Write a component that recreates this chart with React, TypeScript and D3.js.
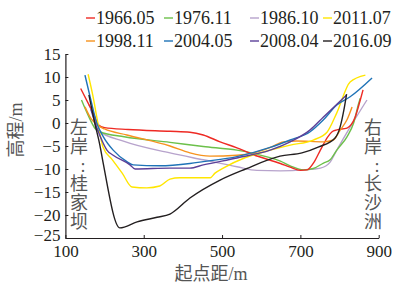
import * as d3 from "d3";
import { useEffect, useRef } from "react";

type Pt = [number, number];

const seriesNames = ["1966.05", "1976.11", "1986.10", "2011.07", "1998.11", "2004.05", "2008.04", "2016.09"];
const seriesColors = ["#ee2a24", "#6cc04a", "#b7a3cc", "#ffe600", "#f7931e", "#1f73b7", "#5b3f98", "#231f20"];

const s1966: Pt[] = [[139, 7.5], [160, 4], [171, 2.2], [184, -0.4], [200, -1], [260, -1.4], [367, -1.8], [418, -2], [452, -2.6], [495, -4.1], [538, -5.4], [580, -6.9], [649, -8.8], [674, -9.6], [700, -10.3], [717, -10.2], [735, -8.5], [751, -5.9], [770, -3], [781, -1.9], [793, -1.5], [819, -1.1], [840, 1.3], [853, 5], [860, 7.2]];
const s1976: Pt[] = [[141, 5], [150, 3.2], [158, 1.7], [176, -1.2], [188, -1.9], [250, -3], [367, -4.2], [452, -5.1], [538, -5.9], [580, -6.6], [649, -8.3], [674, -9.3], [708, -10.2], [733, -9.9], [759, -8.7], [776, -8], [793, -5.9], [819, -3], [836, 0], [849, 4.3], [853, 5.4]];
const s1986: Pt[] = [[160, 4], [170, 2], [181, -1.5], [250, -4], [367, -6.5], [452, -8], [538, -9.5], [589, -10.3], [649, -10.4], [708, -10.2], [751, -9.8], [776, -8.5], [793, -5.9], [827, -0.9], [870, 5]];
const s2011: Pt[] = [[158, 10.6], [170, 6], [183, 0], [196, -5.2], [220, -8], [245, -10.9], [270, -13.9], [308, -14.1], [341, -13.7], [367, -12.2], [392, -11.9], [470, -11.9], [482, -10.9], [503, -9.8], [560, -7.5], [623, -5.9], [674, -4.8], [733, -3.7], [768, -2], [793, 2.2], [827, 8.9], [866, 10.4]];
const s1998: Pt[] = [[150, 3.5], [165, 1], [181, -0.4], [200, -1.3], [257, -2.6], [367, -5], [418, -6.5], [469, -7.2], [538, -7], [580, -6.5], [623, -5.3], [657, -4.1], [691, -3.9], [759, -4.1], [784, -3.7], [802, -1.5], [819, 0.7], [832, 3.5]];
const s2004: Pt[] = [[150, 10.4], [165, 5], [180, 0], [197, -3], [222, -5.9], [257, -8.4], [273, -9.1], [341, -9.3], [418, -8.8], [452, -8.4], [538, -7.3], [623, -5.3], [674, -3.7], [725, -1.9], [759, 0.7], [793, 3.9], [827, 5.7], [883, 9.8]];
const s2008: Pt[] = [[165, 3], [180, -1], [196, -4.3], [206, -5.9], [222, -7], [265, -9.1], [278, -10], [367, -9.8], [418, -9.8], [452, -9.1], [538, -7.6], [623, -5.9], [674, -4.1], [725, -1.5], [759, 1.3], [818, 6.1]];
const s2016: Pt[] = [[160, 6.1], [176, -0.4], [188, -4.8], [196, -8.5], [239, -22.8], [283, -21.5], [334, -20.5], [367, -19.8], [418, -16.3], [495, -12.4], [560, -10], [648, -7.2], [704, -6.5], [747, -5.2], [788, -3.3], [801, -1], [811, 2.8], [818, 6.3]];

const seriesData = [s1966, s1976, s1986, s2011, s1998, s2004, s2008, s2016];
// draw order: older ones under newer ones
const drawOrder = [2, 1, 0, 4, 3, 5, 6, 7];

const xTicks = [100, 300, 500, 700, 900];
const yTicks = [15, 10, 5, 0, -5, -10, -15, -20, -25];
const leftBank = ["左", "岸", ":", "桂", "家", "坝"];
const rightBank = ["右", "岸", ":", "长", "沙", "洲"];

const font = "'Liberation Serif', 'Noto Sans CJK SC', serif";
const ink = "#231f20";

export default function App() {
  const axisRef = useRef<SVGGElement>(null);
  const W = 397;
  const H = 285;
  const x = d3.scaleLinear().domain([100, 900]).range([65.4, 378.7]);
  const y = d3.scaleLinear().domain([-25, 15]).range([238, 54]);

  const line = d3
    .line<Pt>()
    .x((d) => x(d[0]))
    .y((d) => y(d[1]))
    .curve(d3.curveMonotoneX);

  useEffect(() => {
    const g = d3.select(axisRef.current);
    g.selectAll("*").remove();
    const xAxis = g
      .append("g")
      .attr("transform", `translate(0,${y(-25)})`)
      .call(d3.axisBottom(x).tickValues(xTicks).tickSizeInner(-3).tickSizeOuter(0).tickPadding(7));
    const yAxis = g
      .append("g")
      .attr("transform", `translate(${x(100)},0)`)
      .call(d3.axisLeft(y).tickValues(yTicks).tickSizeInner(-3).tickSizeOuter(0).tickPadding(5).tickFormat((d) => String(d).replace("-", "\u2212")));
    [xAxis, yAxis].forEach((a) => {
      a.selectAll("path").attr("stroke", ink).attr("stroke-width", 1.2);
      a.selectAll("line").attr("stroke", ink);
      a.selectAll("text").attr("fill", ink).attr("font-size", 17).attr("font-family", font);
    });
    // lift the -25 label a touch so it clears the "100" label below
    yAxis.selectAll<SVGTextElement, number>("text").filter((d) => d === -25).attr("dy", "0.15em");
  }, []);

  const legendCols = [86, 164, 250, 323];
  const legendRows = [18, 41];

  return (
    <svg width={W} height={H} style={{ position: "absolute", left: 0, top: 0, background: "#fff" }}>
      <g ref={axisRef} />
      {drawOrder.map((i) => (
        <path key={seriesNames[i]} d={line(seriesData[i]) ?? ""} fill="none" stroke={seriesColors[i]} strokeWidth={1.4} />
      ))}
      {seriesNames.map((name, i) => {
        const lx = legendCols[i % 4];
        const ly = legendRows[Math.floor(i / 4)];
        return (
          <g key={name}>
            <line x1={lx} x2={lx + 9} y1={ly} y2={ly} stroke={seriesColors[i]} strokeWidth={1.4} />
            <text x={lx + 10} y={ly + 6} fontSize={18} fontFamily={font} fill={ink}>
              {name}
            </text>
          </g>
        );
      })}
      {leftBank.map((c, i) => (
        <text key={"l" + i} x={c === ":" ? 83 : 79} y={134 + i * 18.8} textAnchor="middle" fontSize={18} fontFamily={font} fill="#555">
          {c}
        </text>
      ))}
      {rightBank.map((c, i) => (
        <text key={"r" + i} x={c === ":" ? 377 : 373} y={134 + i * 18.8} textAnchor="middle" fontSize={18} fontFamily={font} fill="#555">
          {c}
        </text>
      ))}
      <text transform="translate(22,130) rotate(-90)" textAnchor="middle" fontSize={18} fontFamily={font} fill="#555">
        高程/m
      </text>
      <text x={211} y={280} textAnchor="middle" fontSize={18} fontFamily={font} fill="#555">
        起点距/m
      </text>
    </svg>
  );
}
